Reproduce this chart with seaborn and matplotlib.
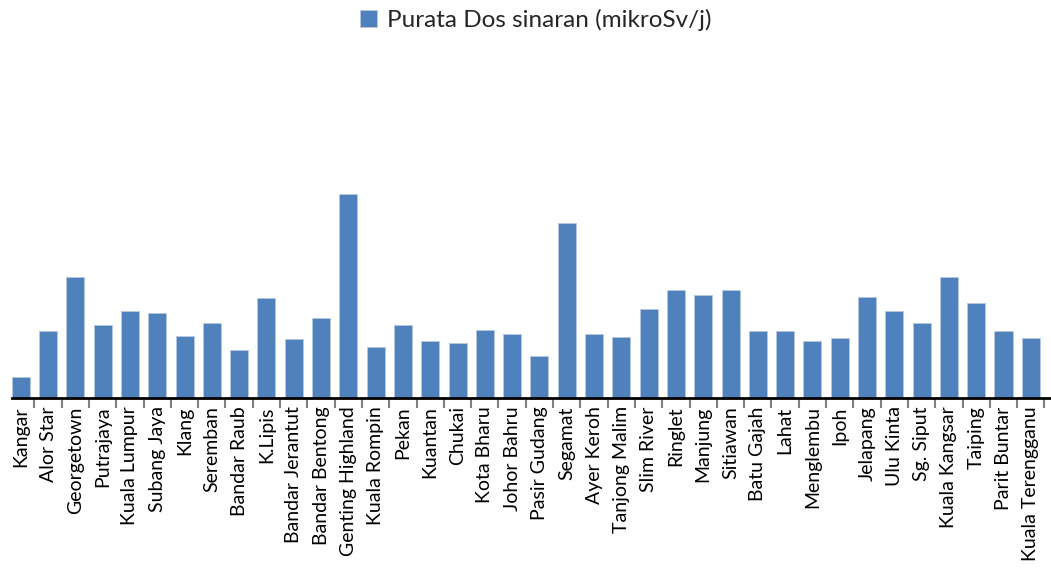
import numpy as np
import pandas as pd
import matplotlib
matplotlib.use("Agg")
import matplotlib.pyplot as plt
import seaborn as sns

# station names (x categories)
stations = ["Kangar", "Alor Star", "Georgetown", "Putrajaya", "Kuala Lumpur",
            "Subang Jaya", "Klang", "Seremban", "Bandar Raub", "K.Lipis",
            "Bandar Jerantut", "Bandar Bentong", "Genting Highland", "Kuala Rompin",
            "Pekan", "Kuantan", "Chukai", "Kota Bharu", "Johor Bahru",
            "Pasir Gudang", "Segamat", "Ayer Keroh", "Tanjong Malim", "Slim River",
            "Ringlet", "Manjung", "Sitiawan", "Batu Gajah", "Lahat", "Menglembu",
            "Ipoh", "Jelapang", "Ulu Kinta", "Sg. Siput", "Kuala Kangsar",
            "Taiping", "Parit Buntar", "Kuala Terengganu"]

# average radiation dose
dose = [0.042, 0.134, 0.242, 0.146, 0.174,
        0.170, 0.124, 0.151, 0.096, 0.201,
        0.118, 0.160, 0.408, 0.102,
        0.146, 0.114, 0.110, 0.137, 0.128,
        0.084, 0.350, 0.128, 0.122, 0.179,
        0.217, 0.206, 0.216, 0.134, 0.134, 0.114,
        0.120, 0.202, 0.174, 0.150, 0.242,
        0.191, 0.134, 0.120]

series_name = "Purata Dos sinaran (mikroSv/j)"
BAR_COLOR = "#4F81BD"

sns.set_style("white")
plt.rcParams['font.family'] = ['Lato', 'DejaVu Sans']

df = pd.DataFrame({"station": stations, "dose": dose})

fig = plt.figure(figsize=(10.51, 5.70), dpi=100)
ax = fig.add_axes([12 / 1051, 172 / 570, 1039 / 1051, 340 / 570])

sns.barplot(data=df, x="station", y="dose", color=BAR_COLOR, saturation=1,
            width=0.66, edgecolor="#b4c8e2", linewidth=0.7,
            label=series_name, ax=ax)

ax.set_xlim(-0.32, 37.74)
ax.set_ylim(0, 0.68)

# hide everything except the category axis
for side in ["left", "right", "top"]:
    ax.spines[side].set_visible(False)
ax.spines["bottom"].set_color("black")
ax.spines["bottom"].set_linewidth(2)
ax.set_yticks([])
ax.set_xlabel("")
ax.set_ylabel("")

# labels at bar centres, tick marks between categories
ax.set_xticks(range(len(stations)))
ax.set_xticklabels(stations, rotation=90, fontsize=14, color="black")
ax.tick_params(axis="x", which="major", length=0, pad=6)
ax.set_xticks(np.arange(0.5, len(stations)), minor=True)
ax.tick_params(axis="x", which="minor", bottom=True, length=7, width=1.5,
               color="#808080", direction="out")

leg = ax.legend(loc="center", bbox_to_anchor=(536 / 1051, 1 - 20 / 570),
                bbox_transform=fig.transFigure, frameon=False, fontsize=17.5,
                handlelength=0.7, handleheight=0.7, handletextpad=0.4)

fig.savefig("out.png", dpi=100)
